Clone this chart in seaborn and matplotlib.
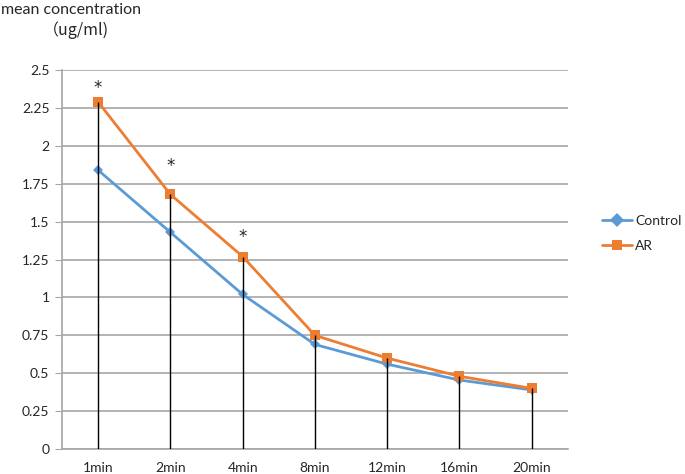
import pandas as pd
import seaborn as sns
import numpy as np
import matplotlib.pyplot as plt

times = ["1min", "2min", "4min", "8min", "12min", "16min", "20min"]
control = [1.84, 1.43, 1.02, 0.69, 0.56, 0.455, 0.39]
ar = [2.29, 1.68, 1.27, 0.75, 0.60, 0.48, 0.40]
star_idx = [0, 1, 2]
star_y = [2.38, 1.87, 1.40]

df = pd.DataFrame({
    "time": times * 2,
    "value": control + ar,
    "group": ["Control"] * len(times) + ["AR"] * len(times),
})

sns.set_style("white")
plt.rcParams["font.family"] = ["Lato", "DejaVu Sans"]

fig = plt.figure(figsize=(6.85, 4.74), dpi=100)
ax = fig.add_axes([0.0905, 0.0527, 0.7385, 0.7993])

sns.lineplot(data=df, x="time", y="value", hue="group", style="group",
             markers={"Control": "D", "AR": "s"}, dashes=False,
             palette={"Control": "#5B9BD5", "AR": "#ED7D31"},
             markersize=7, linewidth=2, markeredgewidth=0, sort=False, ax=ax)
# diamond a bit smaller, like the original
ax.lines[0].set_markersize(5.5)

# drop lines from the highest point down to the axis
top = np.maximum(control, ar)
ax.vlines(range(len(times)), 0, top, color="black", linewidth=1, zorder=5)

for i, y in zip(star_idx, star_y):
    ax.text(i, y, "*", ha="center", va="center", fontsize=12, color="#222222",
            family="DejaVu Sans")

ax.set_xlim(-0.5, len(times) - 0.5)
ax.set_ylim(0, 2.5)
ax.set_yticks(np.arange(0, 2.51, 0.25))
ax.set_yticklabels(["0", "0.25", "0.5", "0.75", "1", "1.25", "1.5", "1.75", "2", "2.25", "2.5"])
ax.yaxis.grid(True, color="#a6a6a6", linewidth=1.2)
ax.xaxis.grid(False)
ax.set_axisbelow(True)
for s in ["top", "right"]:
    ax.spines[s].set_visible(False)
for s in ["left", "bottom"]:
    ax.spines[s].set_color("#a6a6a6")
    ax.spines[s].set_linewidth(1.2)
ax.tick_params(axis="y", left=True, length=5, color="#a6a6a6", labelsize=10, pad=4)
ax.tick_params(axis="x", bottom=False, labelsize=10, pad=6)
ax.set_xlabel("")
ax.set_ylabel("")

fig.text(0.002, 0.978, "mean concentration", fontsize=11.5, ha="left", va="center")
fig.text(0.062, 0.937, "（ug/ml)", fontsize=11.5, ha="left", va="center",
         family=["Noto Sans CJK SC", "DejaVu Sans"])

leg = ax.legend(loc="center left", bbox_to_anchor=(1.067, 0.569), frameon=False,
                fontsize=10, handlelength=2.2, handletextpad=0.2,
                labelspacing=0.95, borderpad=0, borderaxespad=0)

fig.savefig("out.png", dpi=100)
